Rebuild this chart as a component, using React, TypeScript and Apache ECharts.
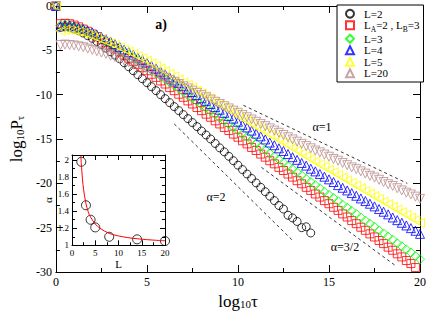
import React, { useEffect, useRef } from 'react';
import * as echarts from 'echarts';

const FONT = '"Liberation Serif", "Times New Roman", serif';

const logTau = [0,0.25,0.5,0.75,1,1.25,1.5,1.75,2,2.25,2.5,2.75,3,3.25,3.5,3.75,4,4.25,4.5,4.75,5,5.25,5.5,5.75,6,6.25,6.5,6.75,7,7.25,7.5,7.75,8,8.25,8.5,8.75,9,9.25,9.5,9.75,10,10.25,10.5,10.75,11,11.25,11.5,11.75,12,12.25,12.5,12.75,13,13.25,13.5,13.75,14,14.25,14.5,14.75,15,15.25,15.5,15.75,16,16.25,16.5,16.75,17,17.25,17.5,17.75,18,18.25,18.5,18.75,19,19.25,19.5,19.75,20];

const seriesNames = ['L=2', 'LA=2 , LB=3', 'L=3', 'L=4', 'L=5', 'L=20'];

const pL2 = [0,-2.4,-2.35,-2.45,-2.6,-2.8,-3.05,-3.35,-3.65,-4.0,-4.35,-4.75,-5.15,-5.55,-5.95,-6.4,-6.85,-7.3,-7.75,-8.2,-8.65,-9.1,-9.55,-10.0,-10.45,-10.9,-11.35,-11.8,-12.25,-12.7,-13.15,-13.6,-14.1,-14.55,-15.0,-15.5,-16.0,-16.45,-16.95,-17.45,-17.95,-18.45,-18.95,-19.45,-19.95,-20.45,-20.95,-21.45,-21.95,-22.5,-22.9,-23.6,-23.9,-24.3,-25.0,-24.9,-25.6];

const pLA2LB3 = [0,-2.0,-1.95,-2.0,-2.15,-2.35,-2.6,-2.85,-3.15,-3.45,-3.8,-4.15,-4.5,-4.85,-5.2,-5.55,-5.9,-6.25,-6.6,-6.95,-7.3,-7.7,-8.05,-8.45,-8.8,-9.2,-9.55,-9.95,-10.3,-10.7,-11.05,-11.45,-11.8,-12.2,-12.55,-12.95,-13.3,-13.7,-14.05,-14.45,-14.8,-15.2,-15.55,-15.95,-16.3,-16.7,-17.05,-17.45,-17.8,-18.2,-18.55,-18.95,-19.3,-19.7,-20.05,-20.45,-20.8,-21.2,-21.55,-21.95,-22.3,-22.7,-23.05,-23.45,-23.8,-24.2,-24.55,-24.95,-25.3,-25.7,-26.05,-26.45,-26.8,-27.2,-27.55,-27.95,-28.3,-28.7,-29.05,-29.5];

const pL3 = [0,-2.2,-2.1,-2.15,-2.3,-2.45,-2.65,-2.9,-3.15,-3.4,-3.7,-4.0,-4.3,-4.6,-4.9,-5.2,-5.5,-5.8,-6.15,-6.5,-6.85,-7.2,-7.55,-7.9,-8.25,-8.6,-8.95,-9.3,-9.7,-10.05,-10.4,-10.75,-11.15,-11.5,-11.85,-12.2,-12.6,-12.95,-13.3,-13.65,-14.0,-14.4,-14.75,-15.1,-15.5,-15.85,-16.2,-16.6,-16.95,-17.3,-17.65,-18.05,-18.4,-18.75,-19.1,-19.5,-19.85,-20.2,-20.55,-20.95,-21.3,-21.65,-22.0,-22.4,-22.75,-23.1,-23.45,-23.85,-24.2,-24.55,-24.9,-25.3,-25.65,-26.0,-26.35,-26.75,-27.1,-27.45,-27.8,-28.2,-28.55];

const pL4 = [0,-2.3,-2.2,-2.2,-2.3,-2.45,-2.6,-2.8,-3.0,-3.25,-3.5,-3.75,-4.0,-4.3,-4.6,-4.9,-5.2,-5.5,-5.8,-6.1,-6.4,-6.75,-7.05,-7.4,-7.7,-8.05,-8.4,-8.7,-9.05,-9.4,-9.7,-10.05,-10.4,-10.7,-11.05,-11.4,-11.7,-12.05,-12.4,-12.7,-13.05,-13.4,-13.7,-14.05,-14.4,-14.7,-15.05,-15.4,-15.7,-16.05,-16.35,-16.7,-17.05,-17.35,-17.7,-18.0,-18.35,-18.65,-18.95,-19.25,-19.55,-19.85,-20.2,-20.5,-20.8,-21.1,-21.4,-21.7,-22.0,-22.3,-22.6,-22.9,-23.2,-23.5,-23.85,-24.15,-24.45,-24.75,-25.05,-25.35,-25.7];

const pL5 = [0,-2.8,-2.7,-2.7,-2.8,-2.9,-3.05,-3.2,-3.4,-3.6,-3.8,-4.0,-4.2,-4.4,-4.65,-4.9,-5.15,-5.4,-5.65,-5.9,-6.15,-6.45,-6.75,-7.05,-7.35,-7.65,-7.95,-8.3,-8.6,-8.9,-9.2,-9.55,-9.85,-10.15,-10.45,-10.8,-11.1,-11.4,-11.7,-12.0,-12.35,-12.65,-12.95,-13.25,-13.6,-13.9,-14.2,-14.5,-14.8,-15.1,-15.4,-15.7,-16.0,-16.3,-16.65,-16.95,-17.25,-17.55,-17.85,-18.15,-18.45,-18.75,-19.05,-19.35,-19.65,-19.95,-20.25,-20.55,-20.85,-21.15,-21.45,-21.75,-22.05,-22.35,-22.65,-22.95,-23.25,-23.55,-23.85,-24.15,-24.45];

const pL20 = [0,-4.4,-4.35,-4.4,-4.45,-4.55,-4.65,-4.8,-4.95,-5.1,-5.25,-5.4,-5.6,-5.75,-5.95,-6.15,-6.35,-6.55,-6.75,-6.95,-7.2,-7.4,-7.65,-7.85,-8.1,-8.35,-8.55,-8.8,-9.05,-9.3,-9.55,-9.8,-10.05,-10.3,-10.55,-10.8,-11.05,-11.3,-11.55,-11.8,-12.05,-12.3,-12.55,-12.8,-13.05,-13.3,-13.55,-13.8,-14.05,-14.3,-14.55,-14.8,-15.05,-15.3,-15.55,-15.8,-16.05,-16.3,-16.5,-16.75,-17.0,-17.25,-17.45,-17.7,-17.95,-18.2,-18.4,-18.65,-18.9,-19.15,-19.35,-19.6,-19.85,-20.1,-20.3,-20.55,-20.8,-21.05,-21.25,-21.5,-21.75];

// dashed guide lines [log10 tau, log10 P]
const alpha1Line = [[10.3, -11.2], [19.3, -20.0]];
const alpha2Line = [[6.5, -13.3], [13.08, -26.6]];
const alpha32Line = [[11.29, -18.2], [18.6, -29.2]];

// inset
const insetL = [2, 3, 4, 5, 8, 14, 20];
const insetAlpha = [1.98, 1.47, 1.3, 1.21, 1.1, 1.07, 1.05];
const fitL = [1.9, 2, 2.25, 2.5, 3, 3.5, 4, 5, 6, 8, 10, 12, 14, 16, 18, 20];
const fitAlpha = [2.05, 1.96, 1.78, 1.65, 1.49, 1.39, 1.33, 1.25, 1.2, 1.14, 1.11, 1.09, 1.077, 1.067, 1.059, 1.053];

const pair = (ys: number[]) => ys.map((y, i) => [logTau[i], y]);

const axisBase = {
  axisLine: { onZero: false, lineStyle: { color: '#000', width: 1 } },
  splitLine: { show: false },
};

export default function App() {
  const ref = useRef<HTMLDivElement>(null);
  useEffect(() => {
    const chart = echarts.init(ref.current!, null, { renderer: 'svg' });
    const hollow = (c: string) => ({ color: 'rgba(0,0,0,0)', borderColor: c, borderWidth: 1 });
    const mainTick = { show: true, inside: true, length: 7, lineStyle: { color: '#000', width: 1 } };
    const mainMinor = { show: true, splitNumber: 2, length: 4, lineStyle: { color: '#000', width: 1 } };
    const insetTick = { show: true, inside: true, length: 5, lineStyle: { color: '#000', width: 1 } };
    const insetMinor = { show: true, splitNumber: 2, length: 3, lineStyle: { color: '#000', width: 1 } };
    const subRich = { s: { fontSize: 11, lineHeight: 6, verticalAlign: 'bottom', fontFamily: FONT, color: '#000' } };

    const symbolSpecs = [
      { symbol: 'circle', size: 8, color: '#000000', rotate: 0 },
      { symbol: 'rect', size: 8, color: '#ff0000', rotate: 0 },
      { symbol: 'diamond', size: 9, color: '#00ff00', rotate: 0 },
      { symbol: 'triangle', size: 9, color: '#0000ff', rotate: 0 },
      { symbol: 'triangle', size: 9, color: '#ffff00', rotate: 90 },
      { symbol: 'triangle', size: 9, color: '#bc8f8f', rotate: 180 },
    ];
    const dataSets = [pL2, pLA2LB3, pL3, pL4, pL5, pL20];

    const guide = (d: number[][]) => ({
      type: 'line', xAxisIndex: 0, yAxisIndex: 0, data: d, symbol: 'none', silent: true,
      lineStyle: { color: '#000', width: 0.8, type: [3, 3] }, z: 1,
    });

    const option: any = {
      animation: false,
      backgroundColor: '#fff',
      grid: [
        { left: 41.5, right: 7.5, top: 5, bottom: 45 },
        { left: 72, right: 264, top: 155, bottom: 71.7, show: true, backgroundColor: '#fff', borderWidth: 0 },
      ],
      legend: {
        data: seriesNames,
        orient: 'vertical',
        left: 337,
        top: 5,
        padding: [3, 4, 3, 8],
        itemGap: 0,
        itemWidth: 8,
        itemHeight: 8,
        borderColor: '#000',
        borderWidth: 1,
        borderRadius: 0,
        backgroundColor: '#fff',
        textStyle: {
          fontFamily: FONT, fontSize: 11, lineHeight: 11.5, color: '#000', padding: [0, 0, 0, 5],
          rich: {
            n: { fontFamily: FONT, fontSize: 11, lineHeight: 11.5, verticalAlign: 'top', color: '#000' },
            s: { fontFamily: FONT, fontSize: 7.5, verticalAlign: 'top', padding: [5.5, 0, 0, 0], color: '#000' },
          },
        },
        formatter: (n: string) => (n === 'LA=2 , LB=3' ? '{n|L}{s|A}{n|=2 , L}{s|B}{n|=3}' : n),
      },
      xAxis: [
        {
          ...axisBase, type: 'value', gridIndex: 0, min: 0, max: 20, interval: 5,
          axisTick: mainTick, minorTick: mainMinor,
          axisLabel: { fontFamily: FONT, fontSize: 12, color: '#000', margin: 4 },
          name: 'log{s|10}τ', nameLocation: 'middle', nameGap: 17,
          nameTextStyle: { fontFamily: FONT, fontSize: 17, color: '#000', rich: subRich },
        },
        {
          ...axisBase, type: 'value', gridIndex: 0, position: 'top', min: 0, max: 20, interval: 5,
          axisTick: mainTick, minorTick: mainMinor, axisLabel: { show: false },
        },
        {
          ...axisBase, type: 'value', gridIndex: 1, min: 0, max: 20, interval: 5,
          axisTick: insetTick, minorTick: insetMinor,
          axisLabel: { fontFamily: FONT, fontSize: 9, color: '#000', margin: 3 },
          name: 'L', nameLocation: 'middle', nameGap: 12,
          nameTextStyle: { fontFamily: FONT, fontSize: 11, color: '#000' },
        },
        {
          ...axisBase, type: 'value', gridIndex: 1, position: 'top', min: 0, max: 20, interval: 5,
          axisTick: insetTick, minorTick: insetMinor, axisLabel: { show: false },
        },
      ],
      yAxis: [
        {
          ...axisBase, type: 'value', gridIndex: 0, min: -30, max: 0, interval: 5,
          axisTick: mainTick, minorTick: mainMinor,
          axisLabel: { fontFamily: FONT, fontSize: 12, color: '#000', margin: 4 },
          name: 'log{s|10}P{s|τ}', nameLocation: 'middle', nameGap: 22, nameRotate: 90,
          nameTextStyle: { fontFamily: FONT, fontSize: 17, color: '#000', rich: subRich },
        },
        {
          ...axisBase, type: 'value', gridIndex: 0, position: 'right', min: -30, max: 0, interval: 5,
          axisTick: mainTick, minorTick: mainMinor, axisLabel: { show: false },
        },
        {
          ...axisBase, type: 'value', gridIndex: 1, min: 1, max: 2.06, interval: 0.2,
          axisTick: insetTick, minorTick: insetMinor,
          axisLabel: {
            fontFamily: FONT, fontSize: 9, color: '#000', margin: 3,
            formatter: (v: number) => (Math.abs(v * 5 - Math.round(v * 5)) < 1e-6 ? String(+v.toFixed(1)) : ''),
          },
          name: 'α', nameLocation: 'middle', nameGap: 12, nameRotate: 90,
          nameTextStyle: { fontFamily: FONT, fontSize: 11, color: '#000' },
        },
        {
          ...axisBase, type: 'value', gridIndex: 1, position: 'right', min: 1, max: 2.06, interval: 0.2,
          axisTick: insetTick, minorTick: insetMinor, axisLabel: { show: false },
        },
      ],
      series: [
        guide(alpha1Line),
        guide(alpha2Line),
        guide(alpha32Line),
        ...dataSets.map((d, i) => ({
          type: 'scatter',
          name: seriesNames[i],
          xAxisIndex: 0,
          yAxisIndex: 0,
          data: pair(d),
          symbol: symbolSpecs[i].symbol,
          symbolSize: symbolSpecs[i].size,
          symbolRotate: symbolSpecs[i].rotate,
          itemStyle: hollow(symbolSpecs[i].color),
          z: 2 + i * 0.01,
        })),
        {
          type: 'line', xAxisIndex: 2, yAxisIndex: 2, symbol: 'none', smooth: 0.3,
          data: fitL.map((l, i) => [l, fitAlpha[i]]),
          lineStyle: { color: '#ff0000', width: 1 },
        },
        {
          type: 'scatter', xAxisIndex: 2, yAxisIndex: 2, symbol: 'circle', symbolSize: 9,
          data: insetL.map((l, i) => [l, insetAlpha[i]]),
          itemStyle: hollow('#000'),
        },
      ],
      graphic: [
        { type: 'text', x: 161, y: 24, style: { text: 'a)', fontFamily: FONT, fontSize: 14, fontWeight: 'bold', fill: '#000', align: 'center', verticalAlign: 'middle' } },
        { type: 'text', x: 322, y: 127, style: { text: 'α=1', fontFamily: FONT, fontSize: 12, fill: '#000', align: 'center', verticalAlign: 'middle' } },
        { type: 'text', x: 216, y: 197, style: { text: 'α=2', fontFamily: FONT, fontSize: 12, fill: '#000', align: 'center', verticalAlign: 'middle' } },
        { type: 'text', x: 345, y: 247, style: { text: 'α=3/2', fontFamily: FONT, fontSize: 12, fill: '#000', align: 'center', verticalAlign: 'middle' } },
      ],
    };
    chart.setOption(option);
    return () => chart.dispose();
  }, []);
  return <div ref={ref} style={{ position: 'fixed', left: 0, top: 0, width: 429, height: 317 }} />;
}
